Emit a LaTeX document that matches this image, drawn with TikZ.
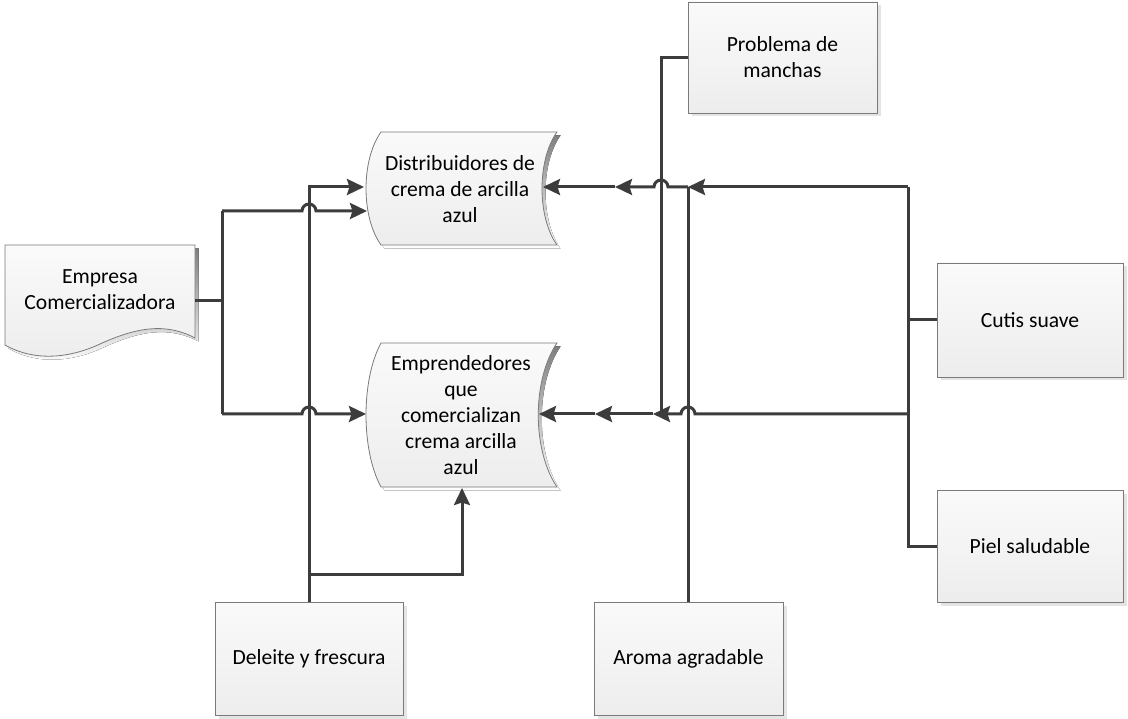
\documentclass[tikz,border=0pt]{standalone}
\usepackage{fontspec}
\setmainfont{Carlito}
\usetikzlibrary{arrows.meta,shadows,calc}

\definecolor{wire}{HTML}{3C3C3C}
\definecolor{edge}{HTML}{7A7A7A}
\definecolor{shade}{HTML}{E4E4E4}
\definecolor{facetop}{HTML}{FAFAFA}
\definecolor{facebot}{HTML}{EDEDED}

\tikzset{
  txt/.style={font=\fontsize{21.6}{26}\selectfont, align=center, text=black},
  box/.style={txt, draw=edge, line width=0.8pt, top color=facetop, bottom color=facebot,
    drop shadow={shadow xshift=3.5pt, shadow yshift=-3.5pt, fill=shade, opacity=1}},
  wireline/.style={draw=wire, line width=3pt, line join=miter},
  arrowline/.style={wireline, -{Stealth[length=17pt,width=16pt,inset=2.5pt]}},
  shapeface/.style={draw=edge, line width=0.8pt, top color=facetop, bottom color=facebot},
}

\begin{document}
\begin{tikzpicture}[x=1pt,y=-1pt]
\useasboundingbox[fill=white] (0,0) rectangle (1128,719);

% document shape: Empresa Comercializadora
\def\docpath{(5,245) -- (195,245) -- (195,338)
  .. controls (165,322) and (135,328) .. (100,344)
  .. controls (70,358) and (35,362) .. (5,345) -- cycle}
\fill[shade, shift={(3.5,3.5)}] \docpath;
\path[shapeface] \docpath;
\node[txt] (emp) at (100,290) {Empresa\\Comercializadora};
\coordinate (emp-e) at (195,301);

% stored-data shape: Distribuidores
\def\distpath{(381,132) -- (557,132)
  .. controls (537,160) and (537,217) .. (557,245) -- (381,245)
  .. controls (361,217) and (361,160) .. (381,132) -- cycle}
\fill[shade, shift={(3.5,3.5)}] \distpath;
\path[shapeface] \distpath;
\node[txt] (dist) at (460,189) {Distribuidores de\\crema de arcilla\\azul};
\coordinate (dist-w1) at (364,187);
\coordinate (dist-w2) at (367,211);
\coordinate (dist-e) at (543,187);

% stored-data shape: Emprendedores
\def\emprpath{(381,343) -- (557,343)
  .. controls (532,380) and (532,450) .. (557,487) -- (381,487)
  .. controls (361,450) and (361,380) .. (381,343) -- cycle}
\fill[shade, shift={(3.5,3.5)}] \emprpath;
\path[shapeface] \emprpath;
\node[txt] (empr) at (461,415) {Emprendedores\\que\\comercializan\\crema arcilla\\azul};
\coordinate (empr-w) at (366,414);
\coordinate (empr-e) at (539,414);
\coordinate (empr-s) at (462,488);

% rectangular boxes
\node[box, minimum width=189pt, minimum height=111pt] (prob) at (782.5,57.5) {Problema de\\manchas};
\node[box, minimum width=186pt, minimum height=114pt] (cutis) at (1030,320) {Cutis suave};
\node[box, minimum width=186pt, minimum height=112pt] (piel) at (1030,546) {Piel saludable};
\node[box, minimum width=188pt, minimum height=113pt] (del) at (309,658.5) {Deleite y frescura};
\node[box, minimum width=189pt, minimum height=113pt] (aroma) at (688.5,658.5) {Aroma agradable};

% junction points of the wiring
\coordinate (bus-top) at (908,187);
\coordinate (bus-mid) at (908,414);

% left-hand wiring
\draw[wireline] (emp-e) -- (222,301);
\draw[wireline] (222,211) -- (222,414);
\draw[arrowline] (222,211) -- (302,211) arc[start angle=180, end angle=0, radius=7pt] -- (dist-w2);
\draw[arrowline] (222,414) -- (302,414) arc[start angle=180, end angle=0, radius=7pt] -- (empr-w);
\draw[arrowline] (del.north) -- (309,187) -- (dist-w1);
\draw[arrowline] (309,574) -- (462,574) -- (empr-s);

% right-hand wiring
\draw[wireline] (bus-top) -- (908,546) -- (piel.west);
\draw[wireline] (908,320) -- (cutis.west);
\draw[wireline] (prob.west) -| (661,414);
\draw[wireline] (688,602) -- (688,187);

\draw[arrowline] (bus-top) -- (688,187);
\draw[arrowline] (688,187) -- (668,187) arc[start angle=0, end angle=180, radius=7pt] -- (615,187);
\draw[arrowline] (615,187) -- (dist-e);

\draw[arrowline] (bus-mid) -- (695,414) arc[start angle=0, end angle=180, radius=7pt] -- (653,414);
\draw[arrowline] (653,414) -- (595,414);
\draw[arrowline] (595,414) -- (empr-e);
\end{tikzpicture}
\end{document}
